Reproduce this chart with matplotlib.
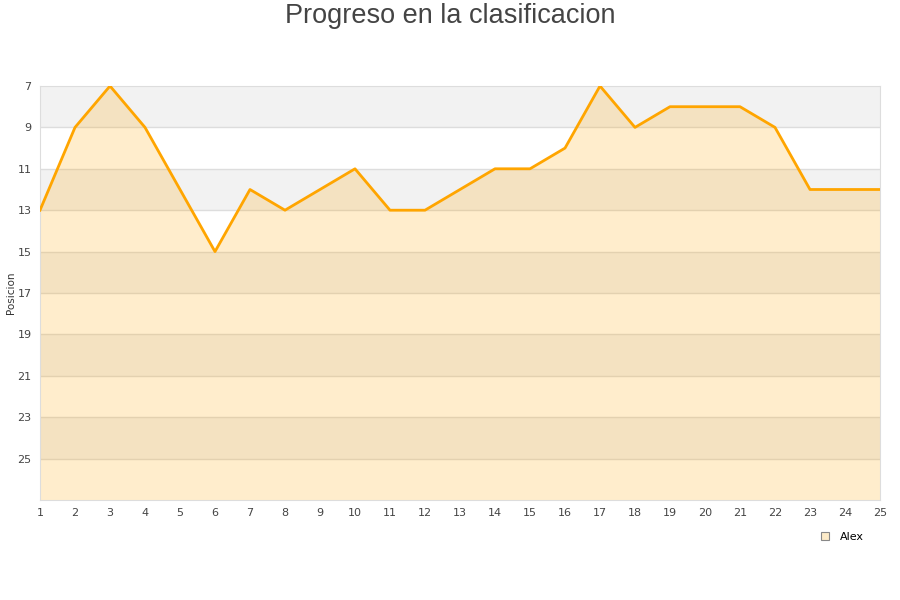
import matplotlib
matplotlib.use("Agg")
import matplotlib.pyplot as plt
from matplotlib.lines import Line2D

jornadas = list(range(1, 26))
posiciones = [13, 9, 7, 9, 12, 15, 12, 13, 12, 11, 13, 13, 12, 11, 11, 10, 7, 9, 8, 8, 8, 9, 12, 12, 12]
yticks = [7, 9, 11, 13, 15, 17, 19, 21, 23, 25]

fig = plt.figure(figsize=(9, 6), dpi=100)
ax = fig.add_axes([40/900, 1-500/600, 840/900, 414/600])

ymin, ymax = 7, 27
# alternating bands
for i, y0 in enumerate(range(ymin, ymax, 2)):
    if i % 2 == 0:
        ax.axhspan(y0, y0 + 2, color="#f2f2f2", zorder=0, lw=0)
for y in yticks[1:]:
    ax.axhline(y, color="#dddddd", lw=1, zorder=1)

ax.fill_between(jornadas, posiciones, ymax, color="#ffa500", alpha=0.2, lw=0, zorder=2)
ax.plot(jornadas, posiciones, color="#ffa500", lw=2, zorder=3)

ax.set_xlim(1, 25)
ax.set_ylim(ymax, ymin)
ax.set_xticks(jornadas)
ax.set_yticks(yticks)
ax.tick_params(axis="both", length=0, labelsize=8, colors="#444444", pad=6)
for s in ax.spines.values():
    s.set_color("#dddddd")

fig.text(11/900, 1-293/600, "Posicion", rotation=90, ha="center", va="center",
         fontsize=7.5, color="#333333")

fig.text(0.5, 1-16/600, "Progreso en la clasificacion", ha="center", va="center",
         fontsize=19.5, color="#444444", family="Liberation Sans")

handle = Line2D([], [], marker="s", ls="none", markersize=6,
                markerfacecolor="#fdebc8", markeredgecolor="#888888", markeredgewidth=0.8)
fig.legend([handle], ["Alex"], loc="center", bbox_to_anchor=(839/900, 1-537/600),
           frameon=False, fontsize=8, handletextpad=0.3, borderpad=0)

fig.savefig("out.png", dpi=100)
